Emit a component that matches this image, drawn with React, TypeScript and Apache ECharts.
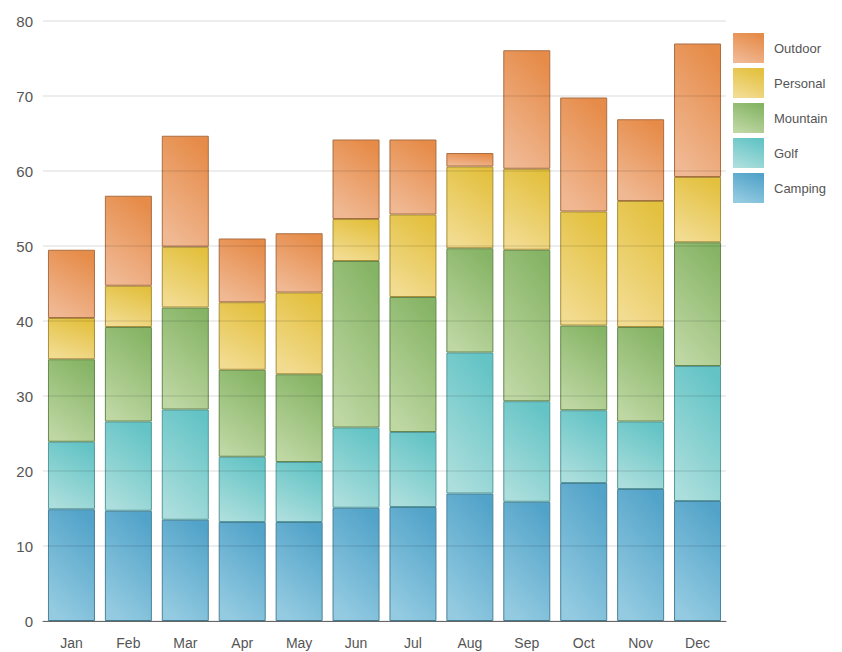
import React, { useEffect, useRef } from "react";
import * as echarts from "echarts";

const months = ["Jan", "Feb", "Mar", "Apr", "May", "Jun", "Jul", "Aug", "Sep", "Oct", "Nov", "Dec"];
const camping = [14.9, 14.7, 13.5, 13.2, 13.2, 15.1, 15.2, 17.0, 15.9, 18.4, 17.6, 16.0];
const golf = [9.0, 11.9, 14.7, 8.7, 8.0, 10.7, 10.0, 18.8, 13.4, 9.7, 9.0, 18.0];
const mountain = [11.0, 12.6, 13.6, 11.6, 11.7, 22.2, 18.0, 13.9, 20.2, 11.3, 12.6, 16.5];
const personal = [5.5, 5.5, 8.1, 9.0, 10.9, 5.6, 11.0, 10.9, 10.8, 15.2, 16.8, 8.7];
const outdoor = [9.1, 12.0, 14.8, 8.5, 7.9, 10.6, 10.0, 1.8, 15.8, 15.2, 10.9, 17.8];
const yTicks = [0, 10, 20, 30, 40, 50, 60, 70, 80];

const seriesDefs = [
  { name: "Camping", data: camping, top: "#52a3c9", bottom: "#94cbe1", border: "#4a829a" },
  { name: "Golf", data: golf, top: "#63c3c5", bottom: "#abdedc", border: "#55999a" },
  { name: "Mountain", data: mountain, top: "#86b465", bottom: "#bed7a3", border: "#66884d" },
  { name: "Personal", data: personal, top: "#e3c03e", bottom: "#f2dc92", border: "#a88f3a" },
  { name: "Outdoor", data: outdoor, top: "#e68b48", bottom: "#f0b994", border: "#aa6e42" },
];

export default function App() {
  const ref = useRef<HTMLDivElement>(null);
  useEffect(() => {
    if (!ref.current) return;
    const chart = echarts.init(ref.current, null, { renderer: "svg" });
    const font = "'Liberation Sans', Arial, sans-serif";
    chart.setOption({
      animation: false,
      backgroundColor: "#ffffff",
      textStyle: { fontFamily: font },
      grid: { left: 43, right: 116, top: 21, bottom: 31, containLabel: false },
      legend: {
        orient: "vertical",
        left: 733,
        top: 33,
        padding: 0,
        icon: "rect",
        itemWidth: 31,
        itemHeight: 30,
        itemGap: 5,
        itemStyle: { borderWidth: 0 },
        data: ["Outdoor", "Personal", "Mountain", "Golf", "Camping"],
        textStyle: { color: "#555", fontSize: 13, fontFamily: font, padding: [0, 0, 0, 5] },
      },
      xAxis: {
        type: "category",
        data: months,
        axisLine: { show: true, lineStyle: { color: "#666", width: 1 } },
        axisTick: { show: false },
        axisLabel: { color: "#555", fontSize: 14, margin: 15, fontFamily: font },
        z: 4,
      },
      yAxis: {
        type: "value",
        min: yTicks[0],
        max: yTicks[yTicks.length - 1],
        interval: 10,
        axisLine: { show: false },
        axisTick: { show: false },
        axisLabel: { color: "#555", fontSize: 15, margin: 10, fontFamily: font },
        splitLine: { show: true, lineStyle: { color: "rgba(0,0,0,0.07)", width: 2 } },
        z: 3,
      },
      series: seriesDefs.map((s) => ({
        name: s.name,
        type: "bar",
        stack: "total",
        barWidth: 47,
        data: s.data,
        itemStyle: {
          color: new echarts.graphic.LinearGradient(0.7, 0, 0.3, 1, [
            { offset: 0, color: s.top },
            { offset: 1, color: s.bottom },
          ]),
          borderColor: s.border,
          borderWidth: 1,
        },
      })),
    });
    return () => chart.dispose();
  }, []);
  return (
    <div
      ref={ref}
      style={{ position: "fixed", left: 0, top: 0, width: 842, height: 652 }}
    />
  );
}
